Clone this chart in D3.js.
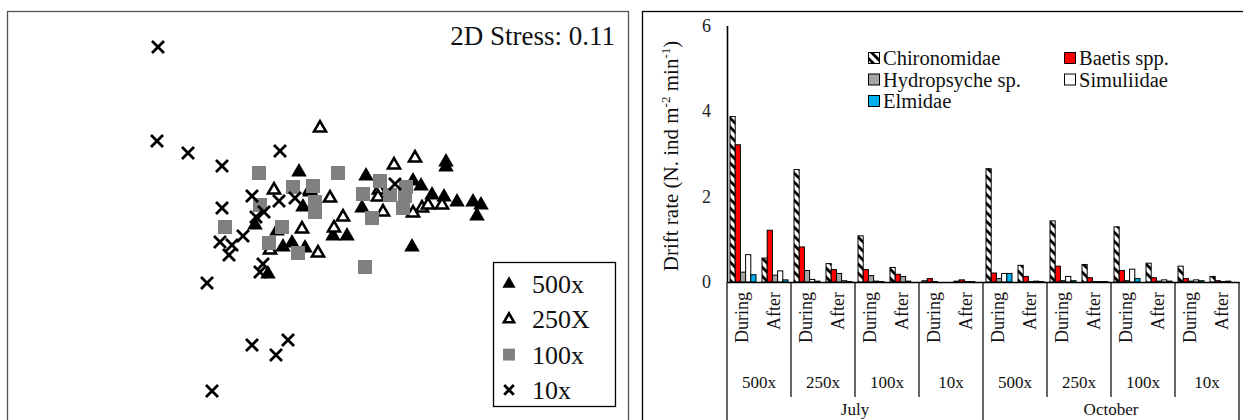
<!DOCTYPE html>
<html>
<head>
<meta charset="utf-8">
<script src="https://cdn.jsdelivr.net/npm/d3@7"></script>
<style>
  body { margin: 0; background: #fff; }
  svg { display: block; }
  svg text { font-family: 'Liberation Serif', 'Times New Roman', serif !important; }
</style>
</head>
<body>
<svg id="chart" width="1243" height="420"></svg>
<script>
// NMDS scores (axis 1, axis 2) for each treatment
const nmds500 = [
  [-0.41, 0.58], [-0.30, 0.38], [-0.37, 0.23], [-0.85, 0.05], [-0.63, -0.01],
  [-0.07, -0.06], [0.07, -0.06], [-0.57, -0.17], [-0.48, -0.13], [-0.35, -0.18],
  [-0.72, -0.44], [0.26, 0.54], [0.73, 0.49], [0.81, 0.44], [0.92, 0.35],
  [1.04, 0.33], [1.17, 0.28], [1.33, 0.28], [1.41, 0.25], [1.37, 0.14],
  [0.22, 0.22], [0.72, -0.17], [1.06, 0.68], [1.06, 0.63]
]
const nmds250 = [
  [-0.20, 1.02], [-0.66, 0.40], [-0.30, 0.40], [-0.10, 0.32], [0.03, 0.13],
  [-0.38, 0.01], [-0.06, 0.02], [-0.22, -0.23], [-0.70, -0.20], [0.75, 0.72],
  [0.54, 0.65], [0.39, 0.40], [0.38, 0.33], [0.82, 0.22], [0.73, 0.17],
  [0.88, 0.25], [1.02, 0.25], [0.43, 0.18]
]
const nmds100 = [
  [-0.81, 0.57], [-0.47, 0.43], [-0.02, 0.57], [-0.27, 0.44], [-0.25, 0.28],
  [-0.25, 0.18], [-0.80, 0.25], [-1.15, 0.03], [-0.58, 0.03], [-0.71, -0.13],
  [-0.42, -0.23], [0.40, 0.49], [0.23, 0.36], [0.50, 0.35], [0.66, 0.43],
  [0.65, 0.34], [0.63, 0.22], [0.32, 0.12], [0.25, -0.37]
]
const nmds10 = [
  [-1.82, 1.83], [-1.83, 0.89], [-1.52, 0.77], [-1.18, 0.64], [-0.60, 0.79],
  [-0.88, 0.34], [-0.61, 0.29], [-0.45, 0.32], [-1.18, 0.22], [-0.76, 0.18],
  [-0.84, 0.13], [-0.97, -0.06], [-1.20, -0.12], [-1.08, -0.15], [-1.11, -0.25],
  [-0.77, -0.34], [-0.80, -0.42], [-1.33, -0.53], [-0.88, -1.15], [-0.64, -1.25],
  [-0.52, -1.10], [-1.28, -1.61], [0.55, 0.46]
]
const treatmentLabels = ['500x', '250X', '100x', '10x']
const stressLabel = '2D Stress: 0.11'

// drift rates, order: July 500x During/After, 250x, 100x, 10x, then October
const months = ['July', 'October']
const doses = ['500x', '250x', '100x', '10x']
const periods = ['During', 'After']
const taxa = ['Chironomidae', 'Baetis spp.', 'Hydropsyche sp.', 'Simuliidae', 'Elmidae']
const chironomidae = [3.87, 0.56, 2.63, 0.43, 1.08, 0.34, 0.03, 0.02, 2.65, 0.39, 1.43, 0.41, 1.29, 0.44, 0.37, 0.13]
const baetis = [3.21, 1.21, 0.82, 0.29, 0.29, 0.18, 0.08, 0.05, 0.21, 0.13, 0.37, 0.10, 0.27, 0.10, 0.08, 0.03]
const hydropsyche = [0.23, 0.16, 0.27, 0.20, 0.15, 0.13, 0.01, 0.01, 0.08, 0.01, 0.03, 0.01, 0.03, 0.02, 0.02, 0.01]
const simuliidae = [0.64, 0.26, 0.06, 0.03, 0.02, 0.02, 0.00, 0.01, 0.20, 0.02, 0.13, 0.01, 0.30, 0.05, 0.05, 0.02]
const elmidae = [0.17, 0.05, 0.02, 0.01, 0.01, 0.00, 0.00, 0.00, 0.20, 0.01, 0.03, 0.01, 0.08, 0.02, 0.03, 0.00]
const yTicks = [0, 2, 4, 6]

const serif = "'Liberation Serif', 'Times New Roman', serif"

let svg = d3.select('#chart').attr('font-family', serif)

let defs = svg.append('defs')
let hatch = defs
  .append('pattern')
  .attr('id', 'hatch')
  .attr('patternUnits', 'userSpaceOnUse')
  .attr('width', 9)
  .attr('height', 9)
hatch.append('rect').attr('width', 9).attr('height', 9).attr('fill', '#fff')
hatch
  .append('path')
  .attr('d', 'M0,0L9,9M-4.5,4.5L4.5,13.5M4.5,-4.5L13.5,4.5')
  .attr('stroke', '#000')
  .attr('stroke-width', 2.8)

/* ---------- left panel: NMDS ---------- */
let left = svg.append('g')

left
  .append('rect')
  .attr('x', 7.5)
  .attr('y', 11.5)
  .attr('width', 621)
  .attr('height', 440)
  .attr('fill', 'none')
  .attr('stroke', '#555')
  .attr('stroke-width', 1.3)

let xNmds = d3.scaleLinear().domain([-3.33, 2.89]).range([7, 629])
let yNmds = d3.scaleLinear().domain([-2.0, 2.19]).range([430, 11])

function drawSymbol(sel, kind, scale) {
  let s = scale || 1
  if (kind === 0) {
    sel.append('path').attr('d', d3.symbol().type(d3.symbolTriangle).size(105 * s * s)).attr('fill', '#000')
  } else if (kind === 1) {
    sel
      .append('path')
      .attr('d', d3.symbol().type(d3.symbolTriangle).size(62 * s * s))
      .attr('fill', '#fff')
      .attr('stroke', '#000')
      .attr('stroke-width', 2.6)
  } else if (kind === 2) {
    sel.append('path').attr('d', d3.symbol().type(d3.symbolSquare).size(196 * s * s)).attr('fill', '#808080')
  } else {
    sel
      .append('path')
      .attr('d', 'M-6,-6L6,6M-6,6L6,-6')
      .attr('transform', 'scale(' + s + ')')
      .attr('stroke', '#000')
      .attr('stroke-width', 2.8 / s)
      .attr('fill', 'none')
  }
}

let groups = [nmds500, nmds250, nmds100, nmds10]
groups.forEach((pts, k) => {
  left
    .append('g')
    .selectAll('g')
    .data(pts)
    .enter()
    .append('g')
    .attr('transform', d => 'translate(' + xNmds(d[0]) + ',' + yNmds(d[1]) + ')')
    .each(function() {
      drawSymbol(d3.select(this), k, 1)
    })
})

left
  .append('text')
  .attr('x', 615)
  .attr('y', 45)
  .attr('text-anchor', 'end')
  .attr('font-size', 27)
  .attr('fill', '#111')
  .text(stressLabel)

let nmdsLegend = left.append('g')
nmdsLegend
  .append('rect')
  .attr('x', 493.5)
  .attr('y', 262.5)
  .attr('width', 122)
  .attr('height', 144)
  .attr('fill', '#fff')
  .attr('stroke', '#000')
  .attr('stroke-width', 1.3)

treatmentLabels.forEach((label, i) => {
  let cy = 284 + i * 35.3
  let g = nmdsLegend.append('g').attr('transform', 'translate(509,' + cy + ')')
  drawSymbol(g, i, i === 3 ? 0.8 : 0.85)
  nmdsLegend
    .append('text')
    .attr('x', 532)
    .attr('y', cy + 9)
    .attr('font-size', 26)
    .attr('fill', '#111')
    .text(label)
})

/* ---------- right panel: drift bars ---------- */
let right = svg.append('g')

right
  .append('rect')
  .attr('x', 642.5)
  .attr('y', 11.5)
  .attr('width', 640)
  .attr('height', 440)
  .attr('fill', 'none')
  .attr('stroke', '#000')
  .attr('stroke-width', 1.3)

let plotLeft = 727
let plotRight = 1239
let yBase = 282

let catKeys = []
let doseKeys = []
months.forEach(m => {
  doses.forEach(d => {
    doseKeys.push(m + '|' + d)
    periods.forEach(p => catKeys.push(m + '|' + d + '|' + p))
  })
})

let yScale = d3.scaleLinear().domain([0, 6]).range([yBase, 25.5])
let catScale = d3.scaleBand().domain(catKeys).range([plotLeft, plotRight])
let doseScale = d3.scaleBand().domain(doseKeys).range([plotLeft, plotRight])
let monthScale = d3.scaleBand().domain(months).range([plotLeft, plotRight])
let taxonScale = d3.scaleBand().domain(taxa).range([3, 29])

let seriesValues = [chironomidae, baetis, hydropsyche, simuliidae, elmidae]
let fills = ['url(#hatch)', '#ff0000', '#a5a5a5', '#ffffff', '#00b0f0']

seriesValues.forEach((values, s) => {
  right
    .append('g')
    .selectAll('rect')
    .data(values)
    .enter()
    .append('rect')
    .attr('x', (d, i) => catScale(catKeys[i]) + taxonScale(taxa[s]))
    .attr('width', taxonScale.bandwidth())
    .attr('y', d => yScale(d))
    .attr('height', d => yBase - yScale(d))
    .attr('fill', fills[s])
    .attr('stroke', '#000')
    .attr('stroke-width', 1)
})

let yAxis = d3
  .axisLeft(yScale)
  .tickValues(yTicks)
  .tickFormat(d3.format('d'))
  .tickSize(0)
  .tickPadding(16)
right
  .append('g')
  .attr('class', 'axis y-axis')
  .attr('transform', 'translate(' + plotLeft + ',0)')
  .call(yAxis)
  .attr('font-family', serif)
  .attr('font-size', 18)
  .call(g => g.select('.domain').attr('stroke', '#000').attr('stroke-width', 1.6))
  .call(g => g.selectAll('text').attr('fill', '#222'))

let xAxis = d3
  .axisBottom(catScale)
  .tickSize(0)
  .tickSizeOuter(0)
  .tickFormat(k => k.split('|')[2])
right
  .append('g')
  .attr('class', 'axis x-axis')
  .attr('transform', 'translate(0,' + yBase + ')')
  .call(xAxis)
  .attr('font-family', serif)
  .attr('font-size', 18)
  .call(g => g.select('.domain').attr('stroke', '#000').attr('stroke-width', 1.6))
  .call(g =>
    g
      .selectAll('text')
      .attr('fill', '#111')
      .attr('transform', 'rotate(-90)')
      .attr('x', -10)
      .attr('y', 0)
      .attr('dy', '0.3em')
      .attr('text-anchor', 'end')
  )

// dose separators (short) and month separators (long)
let doseEdges = doseKeys.map(k => doseScale(k)).concat([plotRight])
let monthEdges = months.map(m => monthScale(m)).concat([plotRight])
right
  .append('g')
  .selectAll('line')
  .data(doseEdges.filter(x => monthEdges.indexOf(x) < 0))
  .enter()
  .append('line')
  .attr('x1', d => d)
  .attr('x2', d => d)
  .attr('y1', yBase)
  .attr('y2', 397)
  .attr('stroke', '#000')
  .attr('stroke-width', 1.2)
right
  .append('g')
  .selectAll('line')
  .data(monthEdges)
  .enter()
  .append('line')
  .attr('x1', d => d)
  .attr('x2', d => d)
  .attr('y1', yBase)
  .attr('y2', 430)
  .attr('stroke', '#000')
  .attr('stroke-width', 1.2)

right
  .append('g')
  .selectAll('text')
  .data(doseKeys)
  .enter()
  .append('text')
  .attr('x', k => doseScale(k) + doseScale.bandwidth() / 2)
  .attr('y', 388)
  .attr('text-anchor', 'middle')
  .attr('font-size', 17)
  .attr('fill', '#111')
  .text(k => k.split('|')[1])

right
  .append('g')
  .selectAll('text')
  .data(months)
  .enter()
  .append('text')
  .attr('x', m => monthScale(m) + monthScale.bandwidth() / 2)
  .attr('y', 415)
  .attr('text-anchor', 'middle')
  .attr('font-size', 17)
  .attr('fill', '#111')
  .text(m => m)

// y title
let yTitle = right
  .append('text')
  .attr('transform', 'translate(678,156) rotate(-90)')
  .attr('text-anchor', 'middle')
  .attr('font-size', 21)
  .attr('fill', '#111')
yTitle.append('tspan').text('Drift rate (N. ind m')
yTitle.append('tspan').attr('font-size', 13).attr('dy', -8).text('-2')
yTitle.append('tspan').attr('dy', 8).text(' min')
yTitle.append('tspan').attr('font-size', 13).attr('dy', -8).text('-1')
yTitle.append('tspan').attr('dy', 8).text(')')

// legend
let legendX = [868, 1064]
taxa.forEach((t, i) => {
  let col = i % 2
  let row = Math.floor(i / 2)
  let cy = 58 + row * 21.5
  right
    .append('rect')
    .attr('x', legendX[col] + 0.5)
    .attr('y', cy - 5.5)
    .attr('width', 11)
    .attr('height', 11)
    .attr('fill', fills[i])
    .attr('stroke', '#000')
    .attr('stroke-width', 1)
  right
    .append('text')
    .attr('x', legendX[col] + 15)
    .attr('y', cy + 7)
    .attr('font-size', 20.5)
    .attr('fill', '#111')
    .text(t)
})
</script>
</body>
</html>
